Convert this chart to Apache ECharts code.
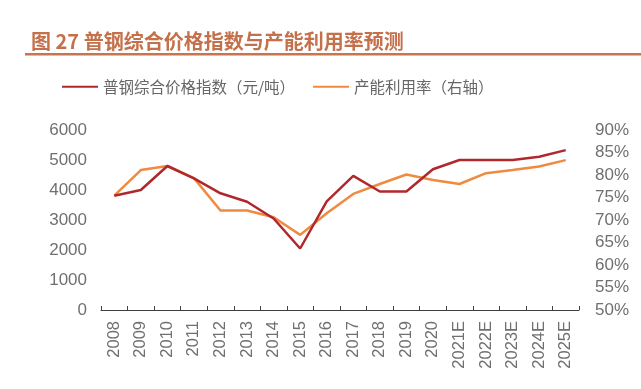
<!DOCTYPE html>
<html><head><meta charset="utf-8">
<script src="https://cdn.jsdelivr.net/npm/echarts@6/dist/echarts.min.js"></script>
<style>html,body{margin:0;padding:0;background:#fff;}#c{width:641px;height:389px;}</style>
</head><body><div id="c"></div>
<script>
var categories = ['2008','2009','2010','2011','2012','2013','2014','2015','2016','2017','2018','2019','2020','2021E','2022E','2023E','2024E','2025E'];
var priceIndex = [3810,4000,4800,4390,3890,3610,3050,2050,3620,4470,3950,3950,4690,5000,5000,5000,5110,5330];
var utilization = [75.4,81.1,82.0,79.3,72.1,72.1,70.6,66.7,71.5,75.8,78.0,80.1,78.9,78.0,80.4,81.1,81.9,83.3];
var leftTicks = [0,1000,2000,3000,4000,5000,6000];
var rightTicks = [50,55,60,65,70,75,80,85,90];
var titleText = '图 27 普钢综合价格指数与产能利用率预测';
var seriesNames = ['普钢综合价格指数（元/吨）','产能利用率（右轴）'];

var chart = echarts.init(document.getElementById('c'));
var font = 'Liberation Sans, Arial, "Noto Sans CJK SC", sans-serif';
chart.setOption({
  animation:false,
  title:{text:titleText,left:26,top:26,textStyle:{color:'#c4704a',fontSize:20,fontWeight:'bold',fontFamily:'"Noto Sans CJK SC", sans-serif'}},
  graphic:[{type:'rect',shape:{x:25,y:53,width:616,height:2.5},style:{fill:'#c8754f'}}],
  legend:{top:74,left:57,itemWidth:36,itemHeight:2,itemGap:18,icon:'rect',
    textStyle:{color:'#666666',fontSize:15.5,fontFamily:'"Noto Sans CJK SC", sans-serif'},
    data:seriesNames},
  grid:{left:101,right:62,top:130,bottom:79},
  xAxis:{type:'category',data:categories,boundaryGap:true,
    axisLine:{lineStyle:{color:'#404040',width:1}},
    axisTick:{show:true,inside:true,length:4,lineStyle:{color:'#404040'}},
    axisLabel:{rotate:90,color:'#707070',fontSize:16.5,fontFamily:font,margin:11}},
  yAxis:[
    {type:'value',min:0,max:6000,interval:1000,splitLine:{show:false},
     axisLine:{show:false},axisTick:{show:false},
     axisLabel:{color:'#707070',fontSize:17,fontFamily:font,margin:14,formatter:function(v){return String(v);}}},
    {type:'value',min:50,max:90,interval:5,splitLine:{show:false},
     axisLine:{show:false},axisTick:{show:false},
     axisLabel:{color:'#707070',fontSize:17,fontFamily:font,margin:16,formatter:'{value}%'}}
  ],
  series:[
    {name:seriesNames[0],type:'line',data:priceIndex,yAxisIndex:0,symbol:'none',
     lineStyle:{color:'#b0282c',width:2.5},itemStyle:{color:'#b0282c'},z:3},
    {name:seriesNames[1],type:'line',data:utilization,yAxisIndex:1,symbol:'none',
     lineStyle:{color:'#f08a3e',width:2.5},itemStyle:{color:'#f08a3e'},z:2}
  ]
});
</script></body></html>
